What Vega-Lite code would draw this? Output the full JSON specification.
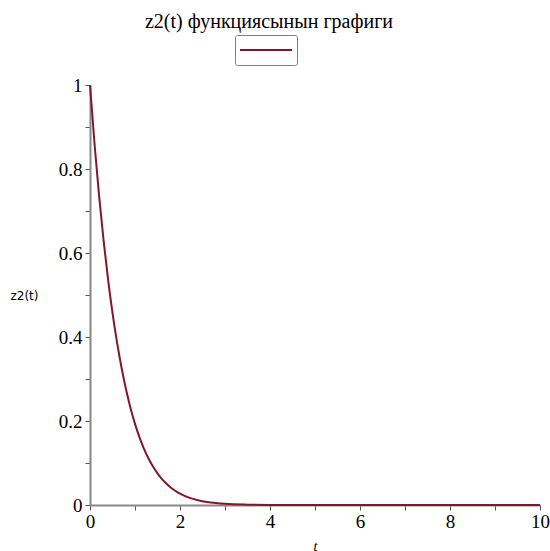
{
  "$schema": "https://vega.github.io/schema/vega-lite/v6.json",
  "autosize": "none",
  "width": 450,
  "height": 420,
  "padding": {"left": 90, "top": 85, "right": 10, "bottom": 46},
  "background": "white",
  "title": {
    "text": "z2(t) функциясынын графиги",
    "font": "Liberation Serif",
    "fontSize": 20,
    "fontWeight": "normal",
    "color": "black",
    "anchor": "middle",
    "dx": -46,
    "offset": 3
  },
  "config": {
    "view": {"stroke": null},
    "axis": {"grid": false}
  },
  "data": {
    "values": [
      {"t": 0, "z": 1, "s": " "},
      {"t": 0.1, "z": 0.8608, "s": " "},
      {"t": 0.2, "z": 0.7386, "s": " "},
      {"t": 0.3, "z": 0.6317, "s": " "},
      {"t": 0.4, "z": 0.5385, "s": " "},
      {"t": 0.5, "z": 0.4576, "s": " "},
      {"t": 0.6, "z": 0.3876, "s": " "},
      {"t": 0.7, "z": 0.3273, "s": " "},
      {"t": 0.8, "z": 0.2755, "s": " "},
      {"t": 0.9, "z": 0.2311, "s": " "},
      {"t": 1.0, "z": 0.1932, "s": " "},
      {"t": 1.1, "z": 0.161, "s": " "},
      {"t": 1.2, "z": 0.1338, "s": " "},
      {"t": 1.3, "z": 0.1108, "s": " "},
      {"t": 1.4, "z": 0.0915, "s": " "},
      {"t": 1.5, "z": 0.0753, "s": " "},
      {"t": 1.6, "z": 0.0617, "s": " "},
      {"t": 1.7, "z": 0.0505, "s": " "},
      {"t": 1.8, "z": 0.0411, "s": " "},
      {"t": 1.9, "z": 0.0334, "s": " "},
      {"t": 2.0, "z": 0.027, "s": " "},
      {"t": 2.2, "z": 0.0176, "s": " "},
      {"t": 2.4, "z": 0.0113, "s": " "},
      {"t": 2.6, "z": 0.0071, "s": " "},
      {"t": 2.8, "z": 0.0045, "s": " "},
      {"t": 3.0, "z": 0.0027, "s": " "},
      {"t": 3.5, "z": 0.0008, "s": " "},
      {"t": 4.0, "z": 0.0002, "s": " "},
      {"t": 5.0, "z": 0, "s": " "},
      {"t": 6.0, "z": 0, "s": " "},
      {"t": 7.0, "z": 0, "s": " "},
      {"t": 8.0, "z": 0, "s": " "},
      {"t": 9.0, "z": 0, "s": " "},
      {"t": 10.0, "z": 0, "s": " "}
    ]
  },
  "mark": {"type": "line", "strokeWidth": 2, "interpolate": "monotone"},
  "encoding": {
    "x": {
      "field": "t",
      "type": "quantitative",
      "scale": {"domain": [0, 10], "nice": false, "zero": false},
      "axis": {
        "values": [0, 1, 2, 3, 4, 5, 6, 7, 8, 9, 10],
        "labelExpr": "datum.value % 2 == 0 ? datum.label : ''",
        "domainColor": "#888888",
        "domainWidth": 2,
        "tickColor": "#555555",
        "tickSize": 5,
        "labelFont": "Liberation Serif",
        "labelFontSize": 19,
        "labelColor": "black",
        "labelPadding": 2,
        "labelFlush": false,
        "title": "t",
        "titleFont": "Liberation Serif",
        "titleFontStyle": "italic",
        "titleFontWeight": "normal",
        "titleFontSize": 14,
        "titleColor": "black",
        "titleBaseline": "top",
        "titleY": 34
      }
    },
    "y": {
      "field": "z",
      "type": "quantitative",
      "scale": {"domain": [0, 1], "nice": false},
      "axis": {
        "values": [0, 0.1, 0.2, 0.3, 0.4, 0.5, 0.6, 0.7, 0.8, 0.9, 1],
        "labelExpr": "round(datum.value * 10) % 2 == 0 ? datum.label : ''",
        "format": "~g",
        "domainColor": "#888888",
        "domainWidth": 2,
        "tickColor": "#555555",
        "tickSize": 5,
        "labelFont": "Liberation Serif",
        "labelFontSize": 19,
        "labelColor": "black",
        "labelPadding": 3,
        "labelFlush": false,
        "title": "z2(t)",
        "titleFont": "DejaVu Sans",
        "titleFontSize": 12,
        "titleFontWeight": "normal",
        "titleColor": "black",
        "titleAngle": 0,
        "titleAlign": "center",
        "titleBaseline": "middle",
        "titleX": -66,
        "titleY": 210
      }
    },
    "color": {
      "field": "s",
      "type": "nominal",
      "scale": {"range": ["#801828"]},
      "legend": {
        "title": null,
        "orient": "none",
        "legendX": 145,
        "legendY": -50,
        "symbolType": "stroke",
        "symbolSize": 2704,
        "symbolStrokeWidth": 2,
        "clipHeight": 22,
        "labelExpr": "''",
        "labelFontSize": 1,
        "labelOffset": 0,
        "strokeColor": "#808080",
        "cornerRadius": 2,
        "padding": 4
      }
    }
  }
}
